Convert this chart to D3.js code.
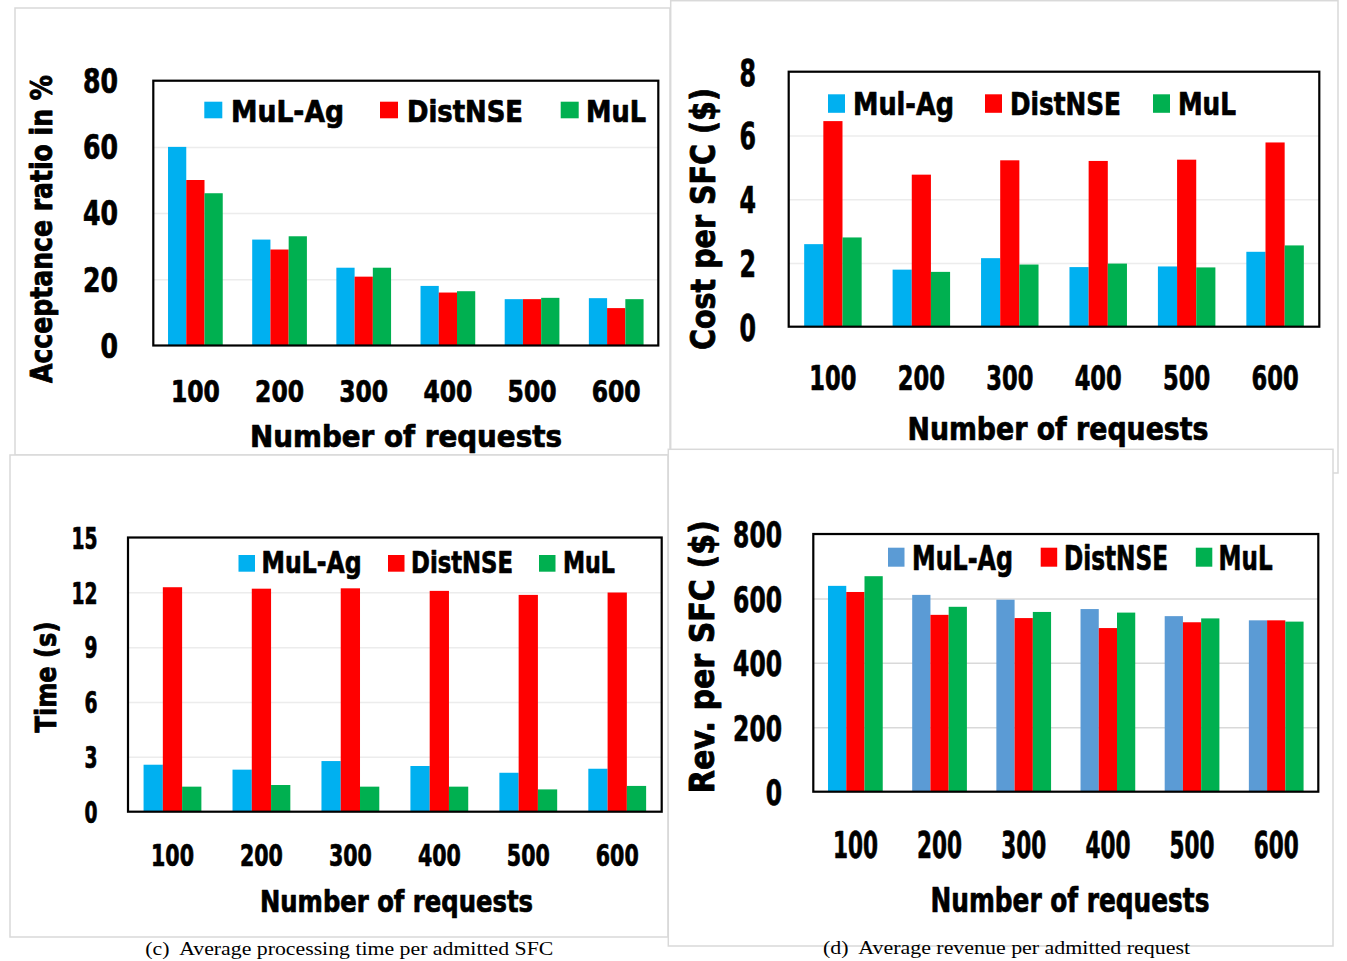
<!DOCTYPE html>
<html>
<head>
<meta charset="utf-8">
<script src="https://cdn.jsdelivr.net/npm/d3@7"></script>
<style>
  html, body { margin: 0; padding: 0; background: #fff; }
  svg { display: block; }
</style>
</head>
<body>
<svg id="chart" width="1347" height="961"></svg>
<script>
// ---------------- DATA ----------------
const categories = ["100", "200", "300", "400", "500", "600"];

const legendA = ["MuL-Ag", "DistNSE", "MuL"];
const acceptMulAg   = [60, 32, 23.5, 18, 14, 14.3];
const acceptDistNSE = [50, 29, 20.8, 16, 14, 11.3];
const acceptMuL     = [46, 33, 23.5, 16.4, 14.4, 14];
const ticksA = [0, 20, 40, 60, 80];

const legendB = ["Mul-Ag", "DistNSE", "MuL"];
const costMulAg   = [2.59, 1.79, 2.15, 1.87, 1.89, 2.35];
const costDistNSE = [6.45, 4.77, 5.22, 5.20, 5.24, 5.78];
const costMuL     = [2.80, 1.72, 1.95, 1.98, 1.86, 2.55];
const ticksB = [0, 2, 4, 6, 8];

const legendC = ["MuL-Ag", "DistNSE", "MuL"];
const timeMulAg   = [2.57, 2.30, 2.77, 2.50, 2.13, 2.35];
const timeDistNSE = [12.28, 12.20, 12.22, 12.08, 11.86, 11.99];
const timeMuL     = [1.37, 1.46, 1.37, 1.37, 1.22, 1.41];
const ticksC = [0, 3, 6, 9, 12, 15];

const legendD = ["MuL-Ag", "DistNSE", "MuL"];
const revMulAg   = [639, 611, 596, 567, 545, 532];
const revDistNSE = [620, 549, 539, 508, 526, 532];
const revMuL     = [669, 574, 558, 556, 538, 528];
const ticksD = [0, 200, 400, 600, 800];

const captionC = "(c)\u00A0 Average processing time per admitted SFC";
const captionD = "(d)\u00A0 Average revenue per admitted request";

const yTitleA = "Acceptance ratio in %";
const yTitleB = "Cost per SFC ($)";
const yTitleC = "Time (s)";
const yTitleD = "Rev. per SFC ($)";
const xTitle = "Number of requests";

// ---------------- STYLE / LAYOUT ----------------
const BLUE = "#00B0F0", RED = "#FF0000", GREEN = "#00B050", STEEL = "#5B9BD5";
const COND = "'DejaVu Sans Condensed', 'DejaVu Sans', sans-serif";
const WIDE = "'DejaVu Sans', sans-serif";
const SERIF = "'Liberation Serif', 'Times New Roman', serif";
const HEAVY = 0.7; // extra stroke to mimic the heavier display face

const panels = [
  { frame: [15, 8, 670, 455],
    box: [153.3, 658.3, 80.7, 345.5], ticks: ticksA, series: [acceptMulAg, acceptDistNSE, acceptMuL],
    colors: [BLUE, RED, GREEN], legend: legendA, yTitle: yTitleA, grid: "#ececec",
    yTick: { right: 118, size: 33, digitW: 17.5 },
    xTick: { baseline: 401.7, size: 30, digitW: 16.3 },
    xT: { cx: 406, baseline: 446.7, size: 30, len: 312 },
    yT: { x: 52, cy: 229, size: 30, len: 308 },
    leg: { sx: [204.3, 380, 560.7], sw: 18, sh: 16.6, sy: 101.7, tx: [231, 407, 586], tw: [113, 116, 60], baseline: 121.7, size: 30 } },
  { frame: [670.7, 0.7, 1338, 473],
    box: [788.7, 1319.3, 71.7, 326.7], ticks: ticksB, series: [costMulAg, costDistNSE, costMuL],
    colors: [BLUE, RED, GREEN], legend: legendB, yTitle: yTitleB, grid: "#ececec",
    yTick: { right: 756, size: 37, digitW: 16.5 },
    xTick: { baseline: 390, size: 34, digitW: 15.7 },
    xT: { cx: 1058, baseline: 440, size: 32, len: 301 },
    yT: { x: 715, cy: 219, size: 34, len: 262 },
    leg: { sx: [828, 985, 1153], sw: 17, sh: 18.5, sy: 94.3, tx: [853, 1010, 1178], tw: [101, 111, 58], baseline: 115, size: 32 } },
  { frame: [10, 455, 668, 937],
    box: [128, 661.7, 537.5, 811.7], ticks: ticksC, series: [timeMulAg, timeDistNSE, timeMuL],
    colors: [BLUE, RED, GREEN], legend: legendC, yTitle: yTitleC, grid: "#ececec",
    yTick: { right: 97.4, size: 30, digitW: 13 },
    xTick: { baseline: 866, size: 31, digitW: 14.3 },
    xT: { cx: 396.5, baseline: 911.7, size: 30, len: 273 },
    yT: { x: 56, cy: 677, size: 29, len: 111 },
    leg: { sx: [238.5, 388, 539], sw: 16.5, sh: 16.7, sy: 555, tx: [261.5, 411, 563], tw: [100, 102, 52], baseline: 573.3, size: 30 } },
  { frame: [668.3, 449.3, 1333, 946],
    box: [813.3, 1318.3, 534, 791.7], ticks: ticksD, series: [revMulAg, revDistNSE, revMuL],
    colors: [STEEL, RED, GREEN], firstBarColor: BLUE, legend: legendD, yTitle: yTitleD, grid: "#d9d9d9",
    yTick: { right: 782, size: 36, digitW: 16.3 },
    xTick: { baseline: 858.3, size: 37, digitW: 15 },
    xT: { cx: 1070, baseline: 911.7, size: 34, len: 279 },
    yT: { x: 714, cy: 656.7, size: 34, len: 273 },
    leg: { sx: [888, 1040.7, 1195.8], sw: 16.5, sh: 19, sy: 547.7, tx: [912, 1064, 1218.6], tw: [101, 104, 54], baseline: 570, size: 34 } }
];

const svg = d3.select("#chart");
svg.append("rect").attr("width", 1347).attr("height", 961).attr("fill", "#fff");

function heavy(sel, w) {
  sel.attr("fill", "#000").attr("stroke", "#000").attr("stroke-width", w).attr("stroke-linejoin", "round");
}

panels.forEach(p => {
  const g = svg.append("g");
  const [fx0, fy0, fx1, fy1] = p.frame;
  g.append("rect").attr("x", fx0).attr("y", fy0).attr("width", fx1 - fx0).attr("height", fy1 - fy0)
    .attr("fill", "#fff").attr("stroke", "#d9d9d9").attr("stroke-width", 1.5);

  const [x0, x1, y0, y1] = p.box;
  const x = d3.scaleBand().domain(categories).range([x0, x1]).paddingInner(0.35).paddingOuter(0.175);
  const xs = d3.scaleBand().domain([0, 1, 2]).range([0, x.bandwidth()]);
  const y = d3.scaleLinear().domain([0, d3.max(p.ticks)]).range([y1, y0]);

  // gridlines
  const grid = g.append("g").attr("transform", `translate(${x0},0)`)
    .call(d3.axisLeft(y).tickValues(p.ticks.filter(t => t > 0)).tickSize(-(x1 - x0)).tickFormat(""));
  grid.select(".domain").remove();
  grid.selectAll("line").attr("stroke", p.grid).attr("stroke-width", 1.5);

  // bars
  p.series.forEach((vals, si) => {
    g.append("g").selectAll("rect").data(vals).join("rect")
      .attr("x", (d, i) => x(categories[i]) + xs(si))
      .attr("width", xs.bandwidth())
      .attr("y", d => y(d))
      .attr("height", d => y(0) - y(d))
      .attr("fill", (d, i) => (si === 0 && i === 0 && p.firstBarColor) ? p.firstBarColor : p.colors[si]);
  });

  // box
  g.append("rect").attr("x", x0).attr("y", y0).attr("width", x1 - x0).attr("height", y1 - y0)
    .attr("fill", "none").attr("stroke", "#000").attr("stroke-width", 2.2);

  // y axis labels
  const ya = g.append("g").attr("transform", `translate(${p.yTick.right},0)`)
    .call(d3.axisLeft(y).tickValues(p.ticks).tickSize(0).tickPadding(0).tickFormat(d3.format("d")));
  ya.select(".domain").remove();
  ya.selectAll("text")
    .attr("x", 0).attr("dy", "0.36em")
    .attr("font-family", COND).attr("font-weight", "bold").attr("font-size", p.yTick.size)
    .attr("text-anchor", "end")
    .attr("textLength", d => String(d).length * p.yTick.digitW).attr("lengthAdjust", "spacingAndGlyphs")
    .call(heavy, HEAVY);

  // x axis labels
  const xa = g.append("g").attr("transform", `translate(0,${p.xTick.baseline})`)
    .call(d3.axisBottom(x).tickSize(0).tickPadding(0));
  xa.select(".domain").remove();
  xa.selectAll("text")
    .attr("y", 0).attr("dy", 0)
    .attr("font-family", COND).attr("font-weight", "bold").attr("font-size", p.xTick.size)
    .attr("textLength", d => String(d).length * p.xTick.digitW).attr("lengthAdjust", "spacingAndGlyphs")
    .call(heavy, HEAVY);

  // x title
  g.append("text").attr("x", p.xT.cx).attr("y", p.xT.baseline).attr("text-anchor", "middle")
    .attr("font-family", COND).attr("font-weight", "bold").attr("font-size", p.xT.size)
    .attr("textLength", p.xT.len).attr("lengthAdjust", "spacingAndGlyphs")
    .call(heavy, HEAVY)
    .text(xTitle);

  // y title
  g.append("text").attr("transform", `translate(${p.yT.x},${p.yT.cy}) rotate(-90)`)
    .attr("text-anchor", "middle")
    .attr("font-family", WIDE).attr("font-weight", "bold").attr("font-size", p.yT.size)
    .attr("textLength", p.yT.len).attr("lengthAdjust", "spacingAndGlyphs")
    .call(heavy, 0.9)
    .text(p.yTitle);

  // legend
  p.legend.forEach((name, i) => {
    g.append("rect").attr("x", p.leg.sx[i]).attr("y", p.leg.sy)
      .attr("width", p.leg.sw).attr("height", p.leg.sh)
      .attr("fill", p.colors[i]);
    g.append("text").attr("x", p.leg.tx[i]).attr("y", p.leg.baseline)
      .attr("font-family", COND).attr("font-weight", "bold").attr("font-size", p.leg.size)
      .attr("textLength", p.leg.tw[i]).attr("lengthAdjust", "spacingAndGlyphs")
      .call(heavy, HEAVY)
      .text(name);
  });
});

// captions
svg.append("text").attr("x", 145.3).attr("y", 954.5)
  .attr("font-family", SERIF).attr("font-size", 19).attr("fill", "#000")
  .attr("textLength", 408).attr("lengthAdjust", "spacingAndGlyphs")
  .text(captionC);
svg.append("text").attr("x", 823).attr("y", 954)
  .attr("font-family", SERIF).attr("font-size", 19).attr("fill", "#000")
  .attr("textLength", 367).attr("lengthAdjust", "spacingAndGlyphs")
  .text(captionD);
</script>
</body>
</html>
